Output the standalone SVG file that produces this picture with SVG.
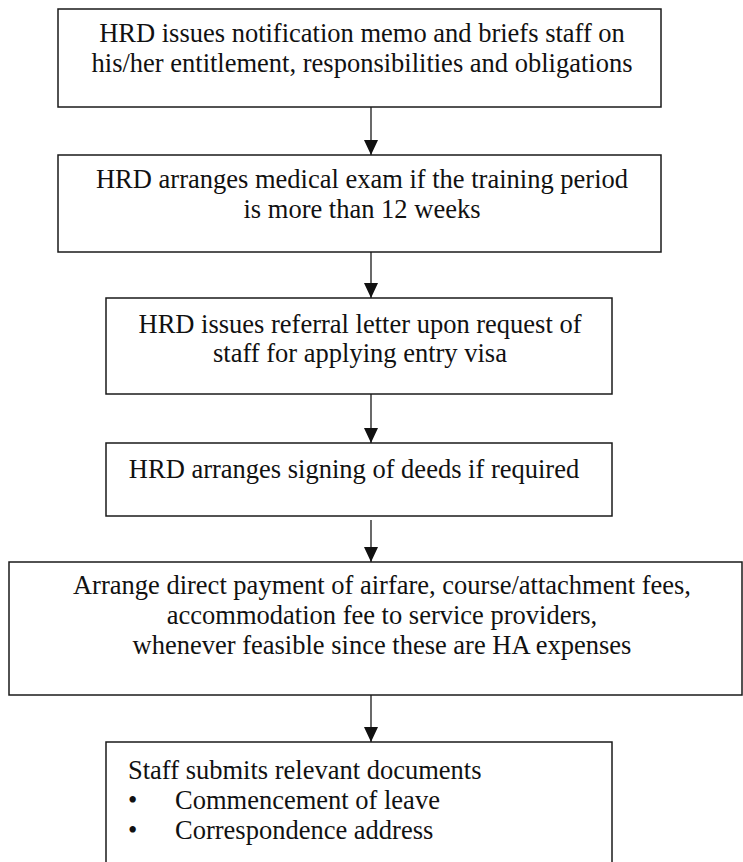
<svg xmlns="http://www.w3.org/2000/svg" width="743" height="862" viewBox="0 0 743 862">
<style>
.box{fill:#fff;stroke:#1a1a1a;stroke-width:1.5}
text{font-family:'Liberation Serif','Times New Roman',Times,serif;font-size:26.5px;fill:#111}
.c{text-anchor:middle}
.ln{stroke:#1a1a1a;stroke-width:1.3;fill:none}
</style>
<defs>
<marker id="ah" markerWidth="15" markerHeight="14" refX="15" refY="7" orient="auto" markerUnits="userSpaceOnUse" viewBox="0 0 15 14">
<path d="M0,0 L15,7 L0,14 Z" fill="#111"/>
</marker>
</defs>
<rect width="743" height="862" fill="#fff"/>
<g id="n1">
<rect class="box" x="58" y="9" width="603" height="98"/>
<text class="c" x="362" y="42">HRD issues notification memo and briefs staff on</text>
<text class="c" x="362" y="72">his/her entitlement, responsibilities and obligations</text>
</g>
<g id="n2">
<rect class="box" x="58" y="155" width="603" height="97"/>
<text class="c" x="362" y="188">HRD arranges medical exam if the training period</text>
<text class="c" x="362" y="218">is more than 12 weeks</text>
</g>
<g id="n3">
<rect class="box" x="106" y="298" width="506" height="96"/>
<text class="c" x="360" y="333">HRD issues referral letter upon request of</text>
<text class="c" x="360" y="362">staff for applying entry visa</text>
</g>
<g id="n4">
<rect class="box" x="106" y="443" width="506" height="73"/>
<text class="c" x="354" y="478">HRD arranges signing of deeds if required</text>
</g>
<g id="n5">
<rect class="box" x="9" y="562" width="733" height="133"/>
<text class="c" x="382" y="594">Arrange direct payment of airfare, course/attachment fees,</text>
<text class="c" x="382" y="624">accommodation fee to service providers,</text>
<text class="c" x="382" y="654">whenever feasible since these are HA expenses</text>
</g>
<g id="n6">
<rect class="box" x="106" y="742" width="506" height="130"/>
<text x="128" y="779">Staff submits relevant documents</text>
<text x="128" y="809">•</text>
<text x="175" y="809">Commencement of leave</text>
<text x="128" y="839">•</text>
<text x="175" y="839">Correspondence address</text>
</g>
<g id="connectors">
<line class="ln" x1="371" y1="107" x2="371" y2="155" marker-end="url(#ah)"/>
<line class="ln" x1="371" y1="252" x2="371" y2="298" marker-end="url(#ah)"/>
<line class="ln" x1="371" y1="394" x2="371" y2="443" marker-end="url(#ah)"/>
<line class="ln" x1="371" y1="520" x2="371" y2="562" marker-end="url(#ah)"/>
<line class="ln" x1="371" y1="695" x2="371" y2="742" marker-end="url(#ah)"/>
</g>
</svg>
